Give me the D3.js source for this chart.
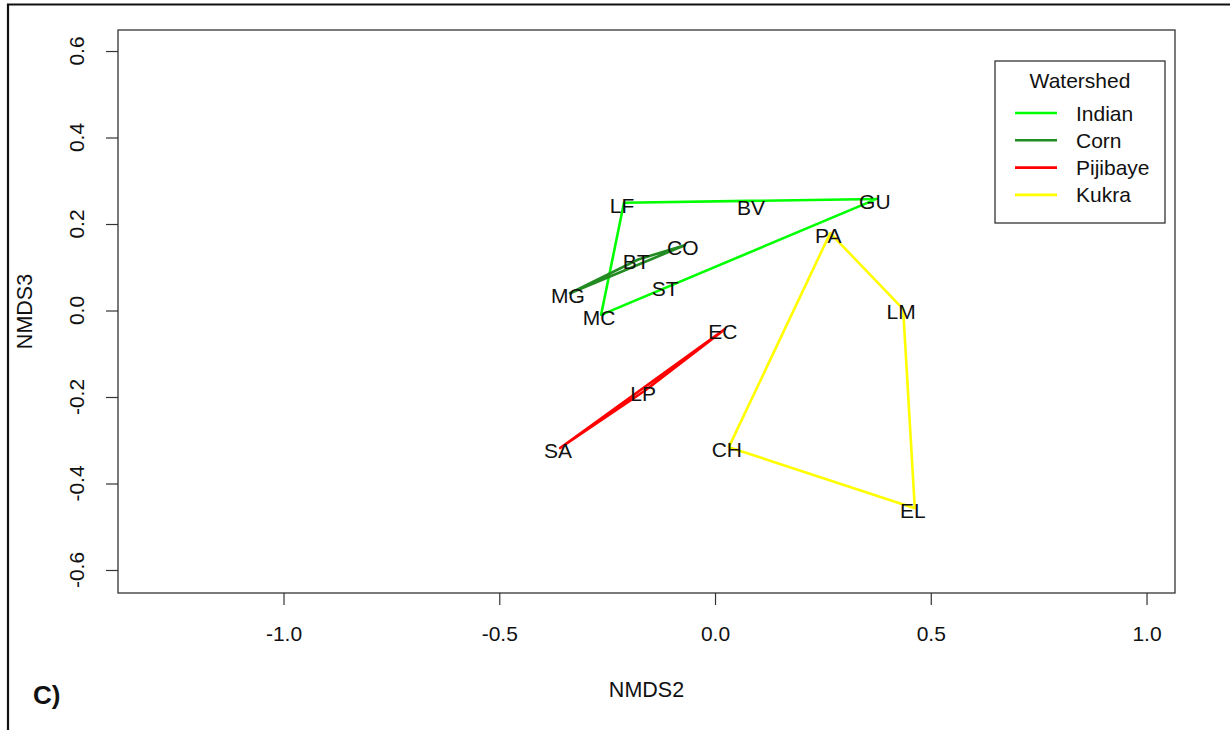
<!DOCTYPE html>
<html>
<head>
<meta charset="utf-8">
<script src="https://cdn.jsdelivr.net/npm/d3@7"></script>
<style>
  body { margin: 0; background: #fff; }
  text { font-family: "Liberation Sans", Arial, sans-serif; fill: #111; }
</style>
</head>
<body>
<div id="chart"></div>
<script>
var svgWidth = 1230;
var svgHeight = 730;

// plot region (pixels)
var plot = { left: 118, right: 1175, top: 30, bottom: 593 };

// site scores
var sites = ["LF", "BV", "GU", "BT", "CO", "MG", "MC", "ST", "EC", "LP", "SA", "CH", "PA", "LM", "EL"];
var nmds2 = [-0.211, 0.088, 0.375, -0.178, -0.070, -0.336, -0.264, -0.111, 0.023, -0.162, -0.359, 0.032, 0.267, 0.436, 0.463];
var nmds3 = [0.249, 0.244, 0.258, 0.118, 0.151, 0.040, -0.010, 0.057, -0.043, -0.185, -0.318, -0.316, 0.179, 0.003, -0.457];
var watershed = ["Indian", "Indian", "Indian", "Corn", "Corn", "Corn", "Indian", "Indian",
                 "Pijibaye", "Pijibaye", "Pijibaye", "Kukra", "Kukra", "Kukra", "Kukra"];

var groups = ["Indian", "Corn", "Pijibaye", "Kukra"];
var groupColors = ["#00ff00", "#228b22", "#ff0000", "#ffff00"];

var xTicks = [-1.0, -0.5, 0.0, 0.5, 1.0];
var yTicks = [-0.6, -0.4, -0.2, 0.0, 0.2, 0.4, 0.6];

var data = sites.map(function (s, i) {
    return { site: s, x: nmds2[i], y: nmds3[i], group: watershed[i] };
});

// R prints a plain hyphen for negatives
var fmt = d => d3.format(".1f")(d).replace("\u2212", "-");

var svg = d3.select("#chart")
    .append("svg")
    .attr("width", svgWidth)
    .attr("height", svgHeight);

// outer frame of the figure (partly cropped)
svg.append("path")
    .attr("d", "M8,730 L8,4.5 L1230,4.5")
    .attr("fill", "none")
    .attr("stroke", "#111")
    .attr("stroke-width", 2.2);

var xScale = d3.scaleLinear()
    .domain([-1.3836, 1.0660])
    .range([plot.left, plot.right]);
var yScale = d3.scaleLinear()
    .domain([-0.6532, 0.6486])
    .range([plot.bottom, plot.top]);

var color = d3.scaleOrdinal().domain(groups).range(groupColors);

// hulls
var hullGroup = svg.append("g");
groups.forEach(function (g) {
    var pts = data.filter(d => d.group === g).map(d => [xScale(d.x), yScale(d.y)]);
    var hull = d3.polygonHull(pts);
    hullGroup.append("path")
        .attr("d", "M" + hull.join("L") + "Z")
        .attr("fill", "none")
        .attr("stroke", color(g))
        .attr("stroke-width", 2.6)
        .attr("stroke-linejoin", "round");
});

// site labels
svg.append("g").selectAll("text")
    .data(data)
    .enter()
    .append("text")
    .attr("x", d => xScale(d.x) - 2)
    .attr("y", d => yScale(d.y) + 10)
    .attr("text-anchor", "middle")
    .attr("font-size", "21px")
    .text(d => d.site);

// axes
var bottomAxis = d3.axisBottom(xScale)
    .tickValues(xTicks)
    .tickSize(12)
    .tickPadding(21)
    .tickFormat(fmt);
var xAxis = svg.append("g")
    .attr("transform", `translate(0, ${plot.bottom})`)
    .call(bottomAxis);
xAxis.select(".domain").remove();
xAxis.selectAll("line").attr("stroke", "#333").attr("stroke-width", 1.2);
xAxis.selectAll("text")
    .attr("font-size", "21px")
    .attr("font-family", "Liberation Sans, Arial, sans-serif")
    .attr("fill", "#111");

var leftAxis = d3.axisLeft(yScale)
    .tickValues(yTicks)
    .tickSize(12)
    .tickFormat("");
var yAxis = svg.append("g")
    .attr("transform", `translate(${plot.left}, 0)`)
    .call(leftAxis);
yAxis.select(".domain").remove();
yAxis.selectAll("line").attr("stroke", "#333").attr("stroke-width", 1.2);

// rotated y tick labels, as R draws them
svg.append("g").selectAll("text")
    .data(yTicks)
    .enter()
    .append("text")
    .attr("transform", d => `translate(84, ${yScale(d)}) rotate(-90)`)
    .attr("text-anchor", "middle")
    .attr("font-size", "21px")
    .text(fmt);

// plot box
svg.append("rect")
    .attr("x", plot.left)
    .attr("y", plot.top)
    .attr("width", plot.right - plot.left)
    .attr("height", plot.bottom - plot.top)
    .attr("fill", "none")
    .attr("stroke", "#333")
    .attr("stroke-width", 1.3);

// axis titles
svg.append("text")
    .attr("x", (plot.left + plot.right) / 2)
    .attr("y", 697)
    .attr("text-anchor", "middle")
    .attr("font-size", "21.5px")
    .text("NMDS2");
svg.append("text")
    .attr("transform", `translate(32, ${(plot.top + plot.bottom) / 2}) rotate(-90)`)
    .attr("text-anchor", "middle")
    .attr("font-size", "21.5px")
    .text("NMDS3");

// panel tag
svg.append("text")
    .attr("x", 33)
    .attr("y", 704)
    .attr("font-size", "26px")
    .attr("font-weight", "bold")
    .attr("fill", "#000")
    .text("C)");

// legend
var legend = svg.append("g").attr("transform", "translate(995, 61)");
legend.append("rect")
    .attr("width", 170)
    .attr("height", 162)
    .attr("fill", "#fff")
    .attr("stroke", "#333")
    .attr("stroke-width", 1.3);
legend.append("text")
    .attr("x", 85)
    .attr("y", 27)
    .attr("text-anchor", "middle")
    .attr("font-size", "21px")
    .text("Watershed");
var items = legend.selectAll(".item")
    .data(groups)
    .enter()
    .append("g")
    .attr("transform", (d, i) => `translate(0, ${52 + i * 27.3})`);
items.append("line")
    .attr("x1", 20)
    .attr("x2", 62)
    .attr("stroke", d => color(d))
    .attr("stroke-width", 2.6);
items.append("text")
    .attr("x", 81)
    .attr("y", 7.5)
    .attr("font-size", "21px")
    .text(d => d);
</script>
</body>
</html>
